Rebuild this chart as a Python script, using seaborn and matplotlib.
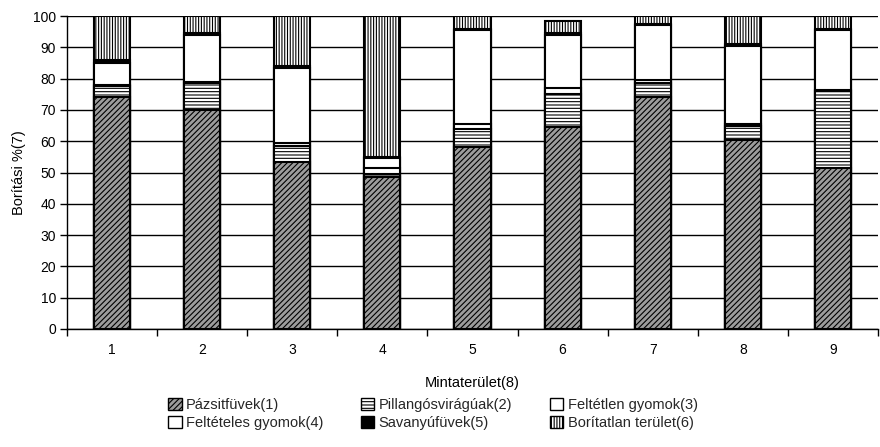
import numpy as np
import pandas as pd
import matplotlib
matplotlib.use("Agg")
import matplotlib.pyplot as plt
from matplotlib.patches import Patch
import seaborn as sns

sites = ["1", "2", "3", "4", "5", "6", "7", "8", "9"]
pazsitfuvek = [74.0, 70.0, 53.5, 48.5, 58.0, 64.5, 74.0, 60.5, 51.5]
pillangos = [3.5, 8.5, 5.0, 1.0, 6.0, 10.5, 4.5, 4.5, 24.5]
feltetlen = [0.5, 0.5, 1.0, 2.0, 1.5, 2.0, 1.0, 0.5, 0.5]
felteteles = [7.0, 15.0, 24.0, 3.0, 30.0, 17.0, 17.5, 25.0, 19.0]
savanyu = [1.0, 0.5, 0.5, 0.5, 0.5, 0.5, 0.5, 0.5, 0.5]
boritatlan = [14.0, 5.5, 16.0, 45.0, 4.0, 4.0, 2.5, 9.0, 4.0]

labels = ["Pázsitfüvek(1)", "Pillangósvirágúak(2)", "Feltétlen gyomok(3)",
          "Feltételes gyomok(4)", "Savanyúfüvek(5)", "Borítatlan terület(6)"]
series = [pazsitfuvek, pillangos, feltetlen, felteteles, savanyu, boritatlan]
faces = ["#9c9c9c", "white", "white", "white", "black", "white"]
hatches = ["//////", "-----", None, None, None, "||||||"]

sns.set_theme(style="white")
plt.rcParams["font.family"] = ["Liberation Sans", "DejaVu Sans"]
plt.rcParams["hatch.linewidth"] = 0.8

fig = plt.figure(figsize=(8.8, 4.47), dpi=100)
ax = fig.add_axes([67 / 880, 1 - 329 / 447, 811 / 880, 313 / 447])

ax.set_axisbelow(True)
ax.yaxis.grid(True, color="black", linewidth=1.0)
ax.xaxis.grid(False)

cum = np.cumsum(np.array(series), axis=0)
df = pd.DataFrame({"site": sites})
for i in reversed(range(len(series))):
    df["val"] = cum[i]
    sns.barplot(data=df, x="site", y="val", order=sites, color=faces[i],
                saturation=1, errorbar=None, width=0.4, edgecolor="black",
                linewidth=1.5, hatch=hatches[i], ax=ax)

ax.set_ylim(0, 100)
ax.set_xlim(-0.5, 8.5)
ax.set_yticks(np.arange(0, 101, 10))
ax.set_xticks(range(9))
ax.set_xticklabels(sites)
ax.set_xticks(np.arange(-0.5, 9, 1), minor=True)
ax.tick_params(axis="x", which="major", length=0, labelsize=10, pad=10, colors="black")
ax.tick_params(axis="x", which="minor", length=5, width=1, direction="out", bottom=True, color="black")
ax.tick_params(axis="y", length=5, width=1, direction="out", left=True, labelsize=10, pad=3, colors="black")
for s in ["top", "right"]:
    ax.spines[s].set_visible(False)
for s in ["left", "bottom"]:
    ax.spines[s].set_color("black")
    ax.spines[s].set_linewidth(1.0)

ax.set_ylabel("Borítási %(7)", fontsize=10.5, color="black", labelpad=5)
ax.set_xlabel("Mintaterület(8)", fontsize=10.5, color="black", labelpad=14)

handles = [Patch(facecolor=faces[i], edgecolor="black", hatch=hatches[i], linewidth=1.0)
           for i in range(6)]
order = [0, 3, 1, 4, 2, 5]
fig.legend([handles[i] for i in order], [labels[i] for i in order], ncol=3,
           loc="center", bbox_to_anchor=(433 / 880, 1 - 414 / 447), frameon=False,
           fontsize=10.5, handlelength=0.9, handleheight=0.9, handletextpad=0.3,
           columnspacing=2.6, labelspacing=0.3, borderpad=0.2)

fig.savefig("out.png", dpi=100)
